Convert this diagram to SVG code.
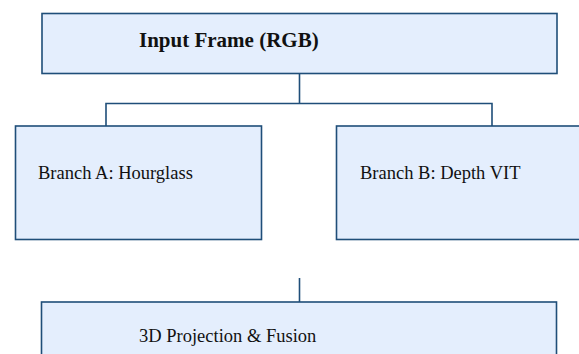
<svg xmlns="http://www.w3.org/2000/svg" width="579" height="354" viewBox="0 0 579 354">
<style>
.box{fill:#e4eefd;stroke:#1f4e79;stroke-width:1.6}
.con{fill:none;stroke:#1f4e79;stroke-width:1.6}
.t{font-family:"Liberation Serif","Times New Roman",serif;font-size:18.5px;fill:#111}
.b{font-weight:bold;font-size:21px}
</style>
<rect width="579" height="354" fill="#fff"/>
<g id="connectors">
<path class="con" d="M299.5 73.5V103.5M106 126V103.5H492V126"/>
<path class="con" d="M299.5 278V302"/>
</g>
<g id="input"><rect class="box" x="42" y="13.5" width="515" height="60"/><text class="t b" x="139" y="47">Input Frame (RGB)</text></g>
<g id="branchA"><rect class="box" x="15.5" y="126" width="246" height="113.5"/><text class="t" x="38" y="179">Branch A: Hourglass</text></g>
<g id="branchB"><rect class="box" x="336.5" y="126" width="250" height="113.5"/><text class="t" x="360" y="179">Branch B: Depth VIT</text></g>
<g id="fusion"><rect class="box" x="41.5" y="302" width="515" height="70"/><text class="t" x="139" y="342">3D Projection &amp; Fusion</text></g>
</svg>
